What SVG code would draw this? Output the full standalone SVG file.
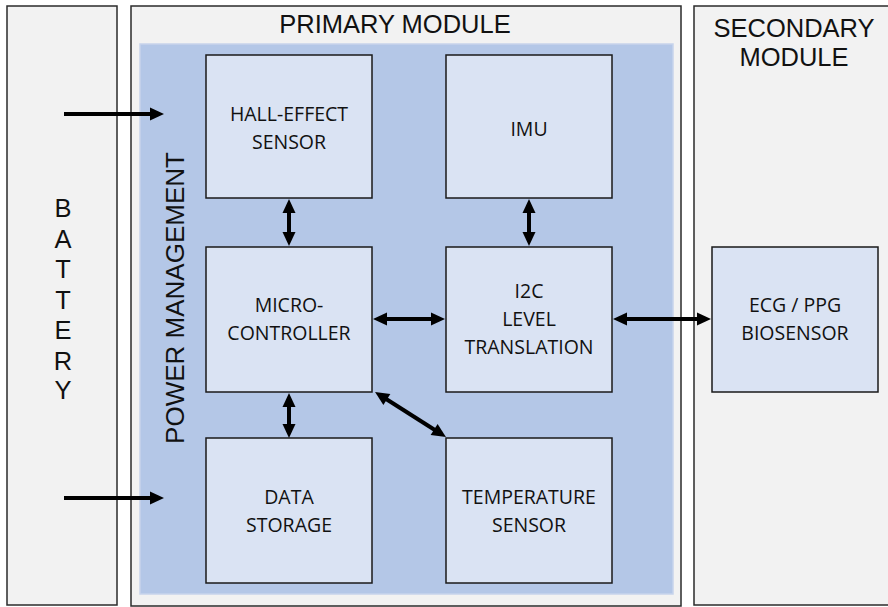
<svg xmlns="http://www.w3.org/2000/svg" width="888" height="607" viewBox="0 0 888 607">
<style>
.panel{fill:#F2F2F2;stroke:#2b2b2b;stroke-width:1.5}
.pm{fill:#B4C7E7;stroke:#C7D4EC;stroke-width:1.5}
.box{fill:#DAE3F3;stroke:#1a1a1a;stroke-width:1.5}
.big{font-family:"Liberation Sans",Arial,sans-serif;font-size:25.5px;fill:#111;text-anchor:middle}
.lbl{font-family:"Open Sans","Liberation Sans",sans-serif;font-size:19.5px;fill:#111;text-anchor:middle}
.conn{stroke:#000;stroke-width:4;fill:none}
</style>
<defs>
<marker id="ah" markerUnits="userSpaceOnUse" markerWidth="14" markerHeight="13" refX="6" refY="6.5" orient="auto-start-reverse" overflow="visible">
<path d="M0,0 L14,6.5 L0,13 z" fill="#000"/>
</marker>
</defs>
<g id="battery">
<rect class="panel" x="7" y="6" width="110" height="599"/>
<text class="big" x="63" y="217">B</text>
<text class="big" x="63" y="247.5">A</text>
<text class="big" x="63" y="278">T</text>
<text class="big" x="63" y="308.5">T</text>
<text class="big" x="63" y="339">E</text>
<text class="big" x="63" y="369.5">R</text>
<text class="big" x="63" y="399">Y</text>
</g>
<g id="primary-module">
<rect class="panel" x="131" y="6" width="550" height="600"/>
<text class="big" x="395" y="33">PRIMARY MODULE</text>
</g>
<g id="secondary-module">
<rect class="panel" x="694" y="6" width="200" height="599"/>
<text class="big" x="794" y="37">SECONDARY</text>
<text class="big" x="794" y="66">MODULE</text>
</g>
<g id="power-management">
<rect class="pm" x="140" y="44" width="533" height="550"/>
<text class="big" transform="translate(184,298) rotate(-90)" style="font-size:26px">POWER MANAGEMENT</text>
</g>
<g id="hall-effect-sensor">
<rect class="box" x="206" y="55" width="166" height="143"/>
<text class="lbl" x="289" y="121">HALL-EFFECT</text>
<text class="lbl" x="289" y="149">SENSOR</text>
</g>
<g id="imu">
<rect class="box" x="446" y="55" width="166" height="143"/>
<text class="lbl" x="529" y="136">IMU</text>
</g>
<g id="micro-controller">
<rect class="box" x="206" y="247" width="166" height="145"/>
<text class="lbl" x="289" y="312">MICRO-</text>
<text class="lbl" x="289" y="340">CONTROLLER</text>
</g>
<g id="i2c-level-translation">
<rect class="box" x="446" y="247" width="166" height="145"/>
<text class="lbl" x="529" y="298">I2C</text>
<text class="lbl" x="529" y="326">LEVEL</text>
<text class="lbl" x="529" y="354">TRANSLATION</text>
</g>
<g id="data-storage">
<rect class="box" x="206" y="438" width="166" height="145"/>
<text class="lbl" x="289" y="504">DATA</text>
<text class="lbl" x="289" y="532">STORAGE</text>
</g>
<g id="temperature-sensor">
<rect class="box" x="446" y="438" width="166" height="145"/>
<text class="lbl" x="529" y="504">TEMPERATURE</text>
<text class="lbl" x="529" y="532">SENSOR</text>
</g>
<g id="ecg-ppg-biosensor">
<rect class="box" x="712" y="247" width="166" height="145"/>
<text class="lbl" x="795" y="312">ECG / PPG</text>
<text class="lbl" x="795" y="340">BIOSENSOR</text>
</g>
<g id="connectors">
<path class="conn" d="M64,114 H156" marker-end="url(#ah)"/>
<path class="conn" d="M64,498 H156" marker-end="url(#ah)"/>
<path class="conn" d="M289,207 V238" marker-start="url(#ah)" marker-end="url(#ah)"/>
<path class="conn" d="M289,401 V430" marker-start="url(#ah)" marker-end="url(#ah)"/>
<path class="conn" d="M529,207 V238" marker-start="url(#ah)" marker-end="url(#ah)"/>
<path class="conn" d="M381,319 H437" marker-start="url(#ah)" marker-end="url(#ah)"/>
<path class="conn" d="M621,319 H703" marker-start="url(#ah)" marker-end="url(#ah)"/>
<path class="conn" d="M381.8,396.3 L439.2,432.7" marker-start="url(#ah)" marker-end="url(#ah)"/>
</g>
</svg>
